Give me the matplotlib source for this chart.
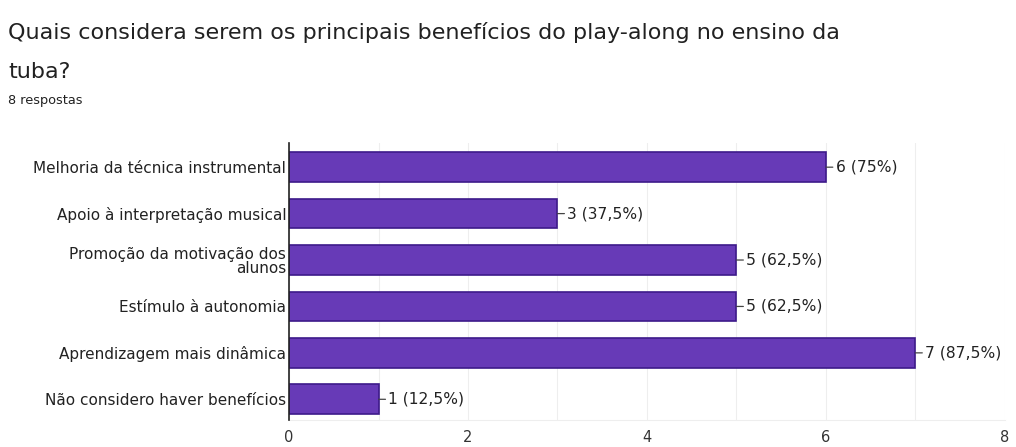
import matplotlib.pyplot as plt
import numpy as np

# data
categories = [
    "Melhoria da técnica instrumental",
    "Apoio à interpretação musical",
    "Promoção da motivação dos\nalunos",
    "Estímulo à autonomia",
    "Aprendizagem mais dinâmica",
    "Não considero haver benefícios",
]
counts = [6, 3, 5, 5, 7, 1]
labels = ["6 (75%)", "3 (37,5%)", "5 (62,5%)", "5 (62,5%)", "7 (87,5%)", "1 (12,5%)"]
x_ticks = [0, 2, 4, 6, 8]

plt.rcParams['font.family'] = ['DejaVu Sans']

fig = plt.figure(figsize=(10.16, 4.47), dpi=100)
ax = fig.add_axes([0.2845, 0.06, 0.7045, 0.62])

y = np.arange(len(categories))
ax.barh(y, counts, height=0.64, color='#673ab7', edgecolor='#3d1a8a', linewidth=1.2, zorder=3)

for yi, v, lab in zip(y, counts, labels):
    ax.annotate(lab, xy=(v, yi), xytext=(7, 0), textcoords='offset points',
                va='center', ha='left', fontsize=11.2, color='#222222',
                arrowprops=dict(arrowstyle='-', color='#444444', lw=0.9,
                                shrinkA=0, shrinkB=0))

ax.set_yticks(y)
ax.set_yticklabels(categories, fontsize=11, color='#222222', linespacing=0.95)
ax.set_ylim(5.45, -0.52)
ax.set_xlim(0, 8)
ax.set_xticks(x_ticks)
ax.set_xticklabels([str(t) for t in x_ticks], fontsize=10.5, color='#333333')
ax.set_xticks(range(9), minor=True)
ax.grid(axis='x', which='both', color='#eeeeee', lw=0.8, zorder=0)
ax.tick_params(axis='both', which='both', length=0)
ax.tick_params(axis='y', pad=2)
ax.tick_params(axis='x', pad=7)
for s in ['top', 'right']:
    ax.spines[s].set_visible(False)
ax.spines['bottom'].set_color('#eeeeee')
ax.spines['left'].set_color('#222222')
ax.spines['left'].set_linewidth(1.2)
ax.spines['left'].set_zorder(4)

fig.text(0.008, 0.95, "Quais considera serem os principais benefícios do play-along no ensino da\ntuba?",
         fontsize=16, color='#212121', va='top', ha='left', linespacing=2.15)
fig.text(0.008, 0.775, "8 respostas", fontsize=9.3, color='#212121', va='center', ha='left')

fig.savefig('out.png', dpi=100)
